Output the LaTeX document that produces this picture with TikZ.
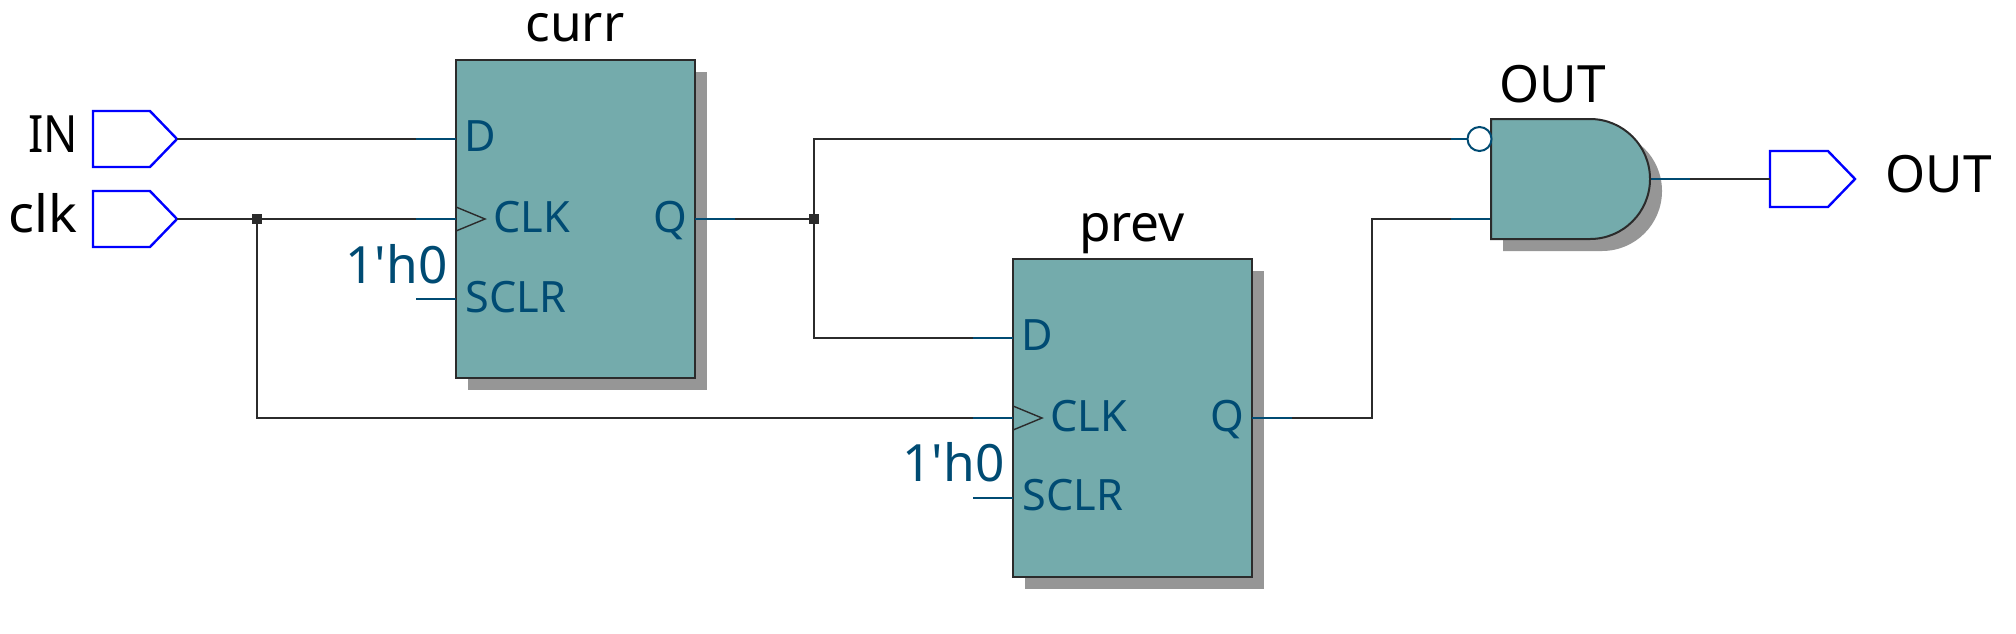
\documentclass[tikz,border=0pt]{standalone}
\usepackage{fontspec}
\setmainfont{Noto Sans}
\newfontfamily\plainnoto{Noto Sans}
\usetikzlibrary{shapes.symbols}
\definecolor{fillteal}{HTML}{74ABAC}
\definecolor{shadowgray}{HTML}{969696}
\definecolor{pinblue}{HTML}{004B73}
\definecolor{wireblack}{HTML}{2B2B2B}
\tikzset{
  x=0.5pt,y=-0.5pt,
  ffbox/.style={draw=wireblack,line width=1pt,fill=fillteal,minimum width=119.5pt,minimum height=159pt,inner sep=0,outer sep=0,anchor=north west},
  shadowbox/.style={fill=shadowgray,minimum width=119.5pt,minimum height=159pt,inner sep=0,outer sep=0,anchor=north west},
  portbox/.style={signal,signal to=east,signal pointer angle=92,draw=blue,line width=1.2pt,fill=white,minimum width=42pt,minimum height=28pt,inner sep=0,outer sep=0,anchor=west},
  wire/.style={draw=wireblack,line width=1pt},
  stub/.style={draw=pinblue,line width=1pt},
  tick/.style={draw=wireblack,line width=0.7pt},
  dot/.style={fill=wireblack,minimum size=5pt,inner sep=0,outer sep=0,shape=rectangle},
  namelabel/.style={text=black,font=\fontsize{25.7pt}{30pt}\selectfont,inner sep=0,anchor=base},
  namewest/.style={namelabel,anchor=base west},
  pinlabel/.style={text=pinblue,font=\fontsize{21.6pt}{24pt}\selectfont,inner sep=0,anchor=base west},
  constlabel/.style={text=pinblue,font=\plainnoto\fontsize{25.7pt}{30pt}\selectfont,inner sep=0,anchor=base east},
}
\begin{document}
\begin{tikzpicture}
\useasboundingbox (0,0) rectangle (2016,633);
% shadows
\node[shadowbox] (currshadow) at (468,72) {};
\node[shadowbox] (prevshadow) at (1025,271) {};
\fill[shadowgray] (1503,131) -- (1602,131) arc[start angle=-90,end angle=90,radius=60] -- (1503,251) -- cycle;
% blocks
\node[ffbox] (curr) at (456,60) {};
\node[ffbox] (prev) at (1013,259) {};
% pin coordinates
\coordinate (currD) at (456,139);
\coordinate (currDs) at (416,139);
\coordinate (currC) at (456,219);
\coordinate (currCs) at (416,219);
\coordinate (currR) at (456,299);
\coordinate (currRs) at (416,299);
\coordinate (currQ) at (695,219);
\coordinate (currQs) at (735,219);
\coordinate (prevD) at (1013,338);
\coordinate (prevDs) at (973,338);
\coordinate (prevC) at (1013,418);
\coordinate (prevCs) at (973,418);
\coordinate (prevR) at (1013,498);
\coordinate (prevRs) at (973,498);
\coordinate (prevQ) at (1252,418);
\coordinate (prevQs) at (1292,418);
\coordinate (gateA) at (1467,139);
\coordinate (gateAs) at (1451,139);
\coordinate (gateB) at (1491,219);
\coordinate (gateBs) at (1451,219);
\coordinate (gateY) at (1650,179);
\coordinate (gateYs) at (1690,179);
% ports
\node[portbox] (in) at (93,139) {};
\node[portbox] (clk) at (93,219) {};
\node[portbox,minimum width=42.5pt] (outp) at (1770,179) {};
% junctions
\node[dot] (j1) at (257,219) {};
\node[dot] (j2) at (814,219) {};
% wires
\draw[wire] (in.east) -- (currDs);
\draw[wire] (clk.east) -- (j1) -- (currCs);
\draw[wire] (j1) |- (prevCs);
\draw[wire] (currQs) -- (j2) |- (gateAs);
\draw[wire] (j2) |- (prevDs);
\draw[wire] (prevQs) -| (1372,219) -- (gateBs);
\draw[wire] (gateYs) -- (outp.west);
% stubs
\foreach \a/\b in {currDs/currD,currCs/currC,currRs/currR,currQ/currQs,prevDs/prevD,prevCs/prevC,prevRs/prevR,prevQ/prevQs,gateAs/gateA,gateBs/gateB,gateY/gateYs}
  \draw[stub] (\a) -- (\b);
% clock marks
\draw[tick] (456,207) -- (485,219) -- (456,231);
\draw[tick] (1013,406) -- (1042,418) -- (1013,430);
% gate
\draw[wire,fill=fillteal] (1491,119) -- (1590,119) arc[start angle=-90,end angle=90,radius=60] -- (1491,239) -- cycle;
\node[draw=pinblue,line width=1pt,fill=white,shape=circle,minimum size=12pt,inner sep=0,outer sep=0] (bubble) at (1479.5,139) {};
% labels
\node[namelabel] (currname) at (575,41) {curr};
\node[namelabel] (prevname) at (1132,241) {prev};
\node[namewest] (gatename) at (1499,102) {OUT};
\node[namewest,xscale=0.88] (inname) at (28,152) {IN};
\node[namewest,xscale=1.05] (clkname) at (8,232) {clk};
\node[namewest] (outname) at (1885,192) {OUT};
\node[pinlabel] (l1) at (464,151) {D};
\node[pinlabel] (l2) at (493,232) {CLK};
\node[pinlabel] (l3) at (653,232) {Q};
\node[pinlabel] (l4) at (465,312) {SCLR};
\node[pinlabel] (l5) at (1021,350) {D};
\node[pinlabel] (l6) at (1050,431) {CLK};
\node[pinlabel] (l7) at (1210,431) {Q};
\node[pinlabel] (l8) at (1022,510) {SCLR};
\node[constlabel] (c1) at (448,283) {1'h0};
\node[constlabel] (c2) at (1005,481) {1'h0};
\end{tikzpicture}
\end{document}
